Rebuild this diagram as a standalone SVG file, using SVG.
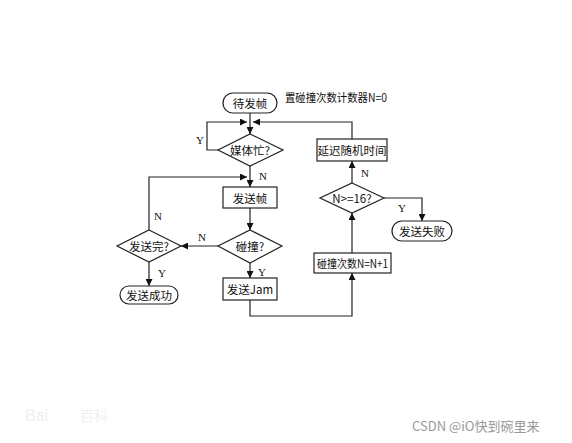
<svg xmlns="http://www.w3.org/2000/svg" width="572" height="443" viewBox="0 0 572 443">
<style>
.s{fill:#fff;stroke:#222;stroke-width:1.2}
.l{fill:none;stroke:#222;stroke-width:1.2}
.t{font-family:"Noto Sans CJK SC","Liberation Serif",serif;font-size:11.5px;fill:#111;text-anchor:middle;dominant-baseline:central}
.y{font-family:"Liberation Serif",serif;font-size:11px;fill:#111;text-anchor:middle;dominant-baseline:central}
</style>
<defs>
<marker id="a" viewBox="0 0 10 10" refX="10" refY="5" markerWidth="7" markerHeight="7" markerUnits="userSpaceOnUse" orient="auto"><path d="M0,0L10,5L0,10z" fill="#111"/></marker>
</defs>
<rect width="572" height="443" fill="#fff"/>
<g id="connectors">
<path class="l" d="M250,113V134" marker-end="url(#a)"/>
<path class="l" d="M218,150H207V122H247" marker-end="url(#a)"/>
<path class="l" d="M352,139V122H253" marker-end="url(#a)"/>
<path class="l" d="M250,166V187" marker-end="url(#a)"/>
<path class="l" d="M149,230V177H247" marker-end="url(#a)"/>
<path class="l" d="M250,208V230" marker-end="url(#a)"/>
<path class="l" d="M218,246H181" marker-end="url(#a)"/>
<path class="l" d="M149,262V286" marker-end="url(#a)"/>
<path class="l" d="M250,263V278" marker-end="url(#a)"/>
<path class="l" d="M250,300V316H352V273" marker-end="url(#a)"/>
<path class="l" d="M352,253V213" marker-end="url(#a)"/>
<path class="l" d="M384,198H422V221" marker-end="url(#a)"/>
<path class="l" d="M352,183V161" marker-end="url(#a)"/>
<text class="y" x="200" y="140">Y</text>
<text class="y" x="263" y="176">N</text>
<text class="y" x="158" y="216">N</text>
<text class="y" x="202" y="237">N</text>
<text class="y" x="162" y="273">Y</text>
<text class="y" x="262" y="272">Y</text>
<text class="y" x="402" y="208">Y</text>
<text class="y" x="365" y="173">N</text>
</g>
<g id="start"><rect class="s" x="223" y="93" width="54" height="20" rx="10"/><text class="t" x="250" y="103">待发帧</text></g>
<g id="title"><text class="t" x="285" y="97" style="text-anchor:start" textLength="102" lengthAdjust="spacingAndGlyphs">置碰撞次数计数器N=0</text></g>
<g id="busy"><polygon class="s" points="250,134 283,150 250,166 218,150"/><text class="t" x="250" y="150">媒体忙?</text></g>
<g id="sendframe"><rect class="s" x="223" y="187" width="54" height="21"/><text class="t" x="250" y="197.5">发送帧</text></g>
<g id="collision"><polygon class="s" points="250,230 282,246 250,263 218,246"/><text class="t" x="250" y="246">碰撞?</text></g>
<g id="done"><polygon class="s" points="149,230 181,246 149,262 117,246"/><text class="t" x="149" y="246">发送完?</text></g>
<g id="success"><rect class="s" x="120" y="286" width="58" height="18" rx="9"/><text class="t" x="149" y="295">发送成功</text></g>
<g id="jam"><rect class="s" x="223" y="278" width="54" height="22"/><text class="t" x="250" y="289">发送Jam</text></g>
<g id="count"><rect class="s" x="314" y="253" width="77" height="20"/><text class="t" x="352.5" y="263" textLength="71" lengthAdjust="spacingAndGlyphs">碰撞次数N=N+1</text></g>
<g id="check16"><polygon class="s" points="352,183 384,198 352,213 320,198"/><text class="t" x="352" y="198">N&gt;=16?</text></g>
<g id="fail"><rect class="s" x="392" y="221" width="60" height="20" rx="10"/><text class="t" x="422" y="231">发送失败</text></g>
<g id="delay"><rect class="s" x="317" y="139" width="70" height="22"/><text class="t" x="352" y="150">延迟随机时间</text></g>
<g id="watermarks">
<text x="25" y="421" font-family="Liberation Sans,sans-serif" font-size="16" fill="#f0f0f0">Bai</text>
<text x="80" y="421" font-family="Noto Sans CJK SC,sans-serif" font-size="14" fill="#f0f0f0">百科</text>
<text x="412" y="431" font-family="Noto Sans CJK SC,Liberation Sans,sans-serif" font-size="13" fill="#999">CSDN @iO快到碗里来</text>
</g>
</svg>
